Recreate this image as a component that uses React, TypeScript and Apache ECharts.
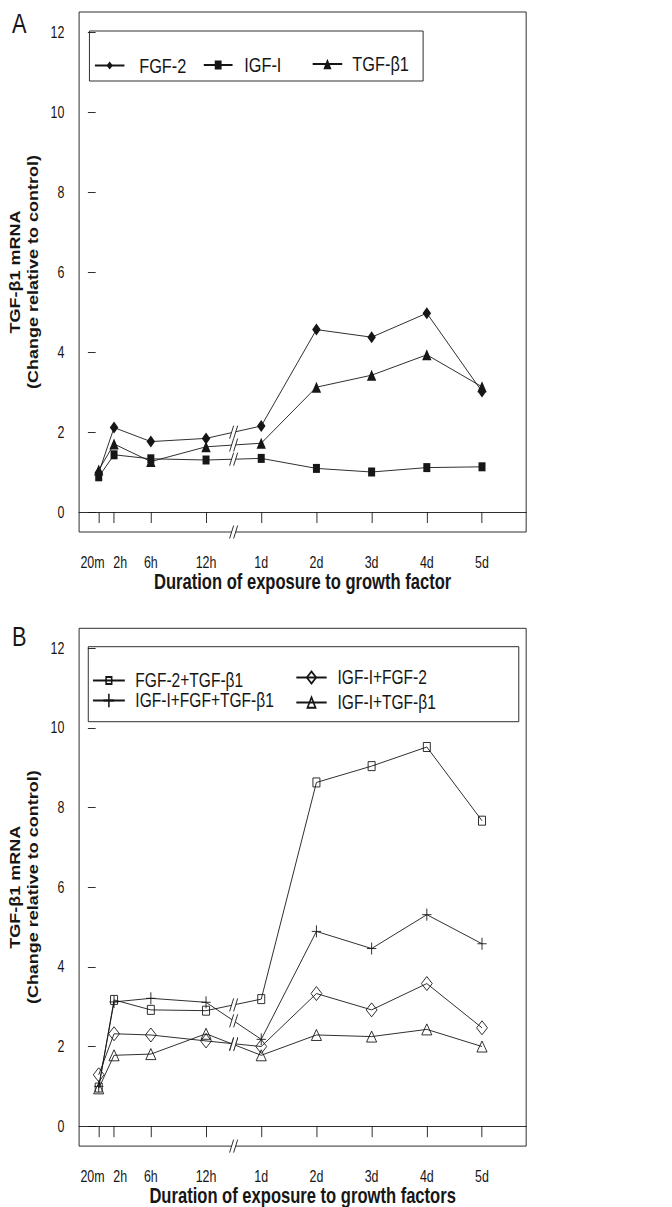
import React, { useEffect, useRef } from 'react';
import * as echarts from 'echarts';

const FONT = '"Liberation Sans", Arial, Helvetica, sans-serif';
const INK = '#161616';

// The reference figure is horizontally compressed (864 -> 672 px); the chart is laid out
// at 864 px and compressed with a CSS transform.
const BASE_W = 864;
const PAGE_W = 672;
const PAGE_H = 1207;

// x axis: hours up to 12h, then a break, then 6 units per day
const timeLabels = ['20m', '2h', '6h', '12h', '1d', '2d', '3d', '4d', '5d'];
const timePos = [0.333, 2, 6, 12, 18, 24, 30, 36, 42];
const breakPos = 15;
const yTicks = [0, 2, 4, 6, 8, 10, 12];

// Panel A
const namesA = ['FGF-2', 'IGF-I', 'TGF-β1'];
const fgf2 = [0.98, 2.11, 1.76, 1.84, 2.15, 4.56, 4.37, 4.97, 3.01];
const igf1 = [0.88, 1.43, 1.33, 1.3, 1.34, 1.09, 1.0, 1.11, 1.13];
const tgfb1 = [1.05, 1.7, 1.26, 1.63, 1.72, 3.12, 3.42, 3.93, 3.13];

// Panel B
const namesB = ['FGF-2+TGF-β1', 'IGF-I+FGF+TGF-β1', 'IGF-I+FGF-2', 'IGF-I+TGF-β1'];
const fgf2Tgf = [0.97, 3.17, 2.92, 2.9, 3.19, 8.63, 9.04, 9.52, 7.67];
const igfFgfTgf = [1.0, 3.12, 3.21, 3.11, 2.18, 4.89, 4.46, 5.31, 4.58];
const igfFgf2 = [1.29, 2.32, 2.29, 2.14, 2.0, 3.33, 2.92, 3.58, 2.47];
const igfTgf = [0.95, 1.78, 1.81, 2.32, 1.78, 2.29, 2.25, 2.43, 2.0];

const PLUS = 'path://M6,0L6,12M0,6L12,6';

function lineSeries(name: string, vals: number[], symbol: string, size: number[] | number, filled: boolean, gi: number) {
  return {
    type: 'line',
    name,
    xAxisIndex: gi,
    yAxisIndex: gi,
    data: timePos.map((x, i) => [x, vals[i]]),
    symbol,
    symbolSize: size,
    showSymbol: true,
    lineStyle: { color: INK, width: 1 },
    itemStyle: filled
      ? { color: INK, borderWidth: 0 }
      : { color: 'rgba(0,0,0,0)', borderColor: INK, borderWidth: 1 },
    emphasis: { disabled: true },
    z: 2,
  };
}

function breakSeries(gi: number, lines: number[][]) {
  const data = lines.map((v) => [breakPos, (v[3] + v[4]) / 2]);
  data.push([breakPos, -0.5]);
  return {
    type: 'custom',
    xAxisIndex: gi,
    yAxisIndex: gi,
    silent: true,
    clip: false,
    z: 5,
    data,
    renderItem: (params: any, api: any) => {
      const p = api.coord([api.value(0), api.value(1)]);
      const hh = 6.5, dx = 2.6, g = 2.6;
      const a1 = [p[0] - g - dx, p[1] + hh];
      const b1 = [p[0] - g + dx, p[1] - hh];
      const a2 = [p[0] + g - dx, p[1] + hh];
      const b2 = [p[0] + g + dx, p[1] - hh];
      return {
        type: 'group',
        children: [
          { type: 'polygon', shape: { points: [a1, b1, b2, a2] }, style: { fill: '#fff' } },
          { type: 'line', shape: { x1: a1[0], y1: a1[1], x2: b1[0], y2: b1[1] }, style: { stroke: INK, lineWidth: 1 } },
          { type: 'line', shape: { x1: a2[0], y1: a2[1], x2: b2[0], y2: b2[1] }, style: { stroke: INK, lineWidth: 1 } },
        ],
      };
    },
  };
}

function xAxis(gi: number, name: string) {
  return {
    type: 'value',
    gridIndex: gi,
    min: -1.8,
    max: 46.8,
    axisLine: { show: true, lineStyle: { color: INK, width: 1 } },
    splitLine: { show: false },
    axisTick: { show: true, customValues: timePos, length: 11, lineStyle: { color: INK } },
    axisLabel: {
      customValues: timePos,
      margin: 22,
      fontSize: 16,
      fontFamily: FONT,
      color: INK,
      formatter: (v: number) => {
        const i = timePos.findIndex((p) => Math.abs(p - v) < 1e-6);
        const t = i >= 0 ? timeLabels[i] : '';
        if (i === 0) return '{l|' + t + '}';
        if (i === 1) return '{r|' + t + '}';
        return t;
      },
      rich: {
        l: { padding: [0, 16, 0, 0], fontSize: 16, fontFamily: FONT, color: INK },
        r: { padding: [0, 0, 0, 16], fontSize: 16, fontFamily: FONT, color: INK },
      },
    },
    name,
    nameLocation: 'middle',
    nameGap: 47,
    nameTextStyle: { fontSize: 21.3, fontWeight: 'bold', fontFamily: FONT, color: INK, verticalAlign: 'middle' },
  };
}

function yAxis(gi: number) {
  return {
    type: 'value',
    gridIndex: gi,
    min: -0.5,
    max: 12.5,
    axisLine: { show: false },
    splitLine: { show: false },
    axisTick: { show: true, customValues: yTicks, length: 10, lineStyle: { color: INK } },
    axisLabel: { customValues: yTicks, margin: 19, fontSize: 16, fontFamily: FONT, color: INK },
    name: 'TGF-β1 mRNA\n(Change relative to control)',
    nameLocation: 'middle',
    nameRotate: 90,
    nameGap: 61,
    nameTextStyle: {
      fontSize: 18,
      fontWeight: 'bold',
      fontFamily: FONT,
      color: INK,
      lineHeight: 23,
      align: 'center',
      verticalAlign: 'middle',
    },
  };
}

function legendItem(name: string, left: number, cy: number, iw: number, ih: number, pad: number, fs: number) {
  return {
    data: [name],
    left,
    top: cy - ih / 2,
    orient: 'horizontal',
    padding: 0,
    itemWidth: iw,
    itemHeight: ih,
    selectedMode: false,
    textStyle: { fontSize: fs, lineHeight: fs, fontFamily: FONT, color: INK, padding: [0, 0, 0, pad] },
  };
}

export default function App() {
  const ref = useRef<HTMLDivElement>(null);
  useEffect(() => {
    if (!ref.current) return;
    const chart = echarts.init(ref.current, null, { renderer: 'svg' });
    const grids = [
      { left: 93.3, top: 12, width: 583.2, height: 520 },
      { left: 93.3, top: 628.3, width: 583.2, height: 520 },
    ].map((g) => ({ ...g, show: true, borderColor: INK, borderWidth: 1, backgroundColor: 'transparent' }));

    chart.setOption({
      animation: false,
      backgroundColor: '#fff',
      textStyle: { fontFamily: FONT },
      grid: grids,
      xAxis: [
        xAxis(0, 'Duration of exposure to growth factor'),
        xAxis(1, 'Duration of exposure to growth factors'),
      ],
      yAxis: [yAxis(0), yAxis(1)],
      legend: [
        legendItem(namesA[0], 121, 60, 38, 10, 14, 21),
        legendItem(namesA[1], 261, 60, 37, 11, 10, 21),
        legendItem(namesA[2], 401, 60, 38, 13, 8, 21),
        legendItem(namesB[0], 118.5, 675, 41, 9, 8.5, 20),
        legendItem(namesB[1], 118.5, 699, 41, 17, 8.5, 20),
        legendItem(namesB[2], 380, 675, 39, 15, 9, 20),
        legendItem(namesB[3], 380, 699, 39, 13, 9, 20),
      ],
      graphic: [
        { type: 'rect', shape: { x: 115, y: 31, width: 429, height: 50 }, style: { fill: 'none', stroke: INK, lineWidth: 1 } },
        { type: 'rect', shape: { x: 113.5, y: 646.7, width: 553.5, height: 75 }, style: { fill: 'none', stroke: INK, lineWidth: 1 } },
        { type: 'text', x: 24.6, y: 23.3, style: { text: 'A', fontSize: 28, fontFamily: FONT, fill: INK, align: 'center', verticalAlign: 'middle' } },
        { type: 'text', x: 24.6, y: 636, style: { text: 'B', fontSize: 28, fontFamily: FONT, fill: INK, align: 'center', verticalAlign: 'middle' } },
      ],
      series: [
        lineSeries(namesA[0], fgf2, 'diamond', [11, 12], true, 0),
        lineSeries(namesA[1], igf1, 'rect', [9, 9], true, 0),
        lineSeries(namesA[2], tgfb1, 'triangle', [12, 11], true, 0),
        breakSeries(0, [fgf2, igf1, tgfb1]),
        lineSeries(namesB[0], fgf2Tgf, 'rect', [9, 9], false, 1),
        lineSeries(namesB[1], igfFgfTgf, PLUS, [12, 12], false, 1),
        lineSeries(namesB[2], igfFgf2, 'diamond', [14, 14], false, 1),
        lineSeries(namesB[3], igfTgf, 'triangle', [13, 11], false, 1),
        breakSeries(1, [fgf2Tgf, igfFgfTgf, igfFgf2, igfTgf]),
      ],
    });
    return () => chart.dispose();
  }, []);

  return (
    <div style={{ position: 'absolute', left: 0, top: 0, width: PAGE_W, height: PAGE_H, overflow: 'hidden', background: '#fff' }}>
      <div
        ref={ref}
        style={{
          width: BASE_W,
          height: PAGE_H,
          transform: `scaleX(${PAGE_W / BASE_W})`,
          transformOrigin: '0 0',
        }}
      />
    </div>
  );
}
